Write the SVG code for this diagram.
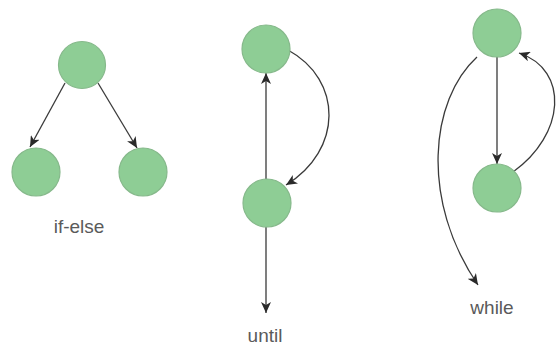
<svg xmlns="http://www.w3.org/2000/svg" width="557" height="345" viewBox="0 0 557 345">
<style>
.node{fill:#8ecd95;stroke:#86b98b;stroke-width:1.2}
.edge{fill:none;stroke:#3a3a3a;stroke-width:1.3}
.lbl{font-family:"Liberation Sans",Arial,sans-serif;font-size:19px;fill:#5a5a5a;text-anchor:middle}
</style>
<defs>
<marker id="ah" markerUnits="userSpaceOnUse" markerWidth="12" markerHeight="10" refX="11" refY="5" orient="auto">
<path d="M0,0 L11,5 L0,10 L3,5 Z" fill="#2a2a2a"/>
</marker>
</defs>
<rect width="557" height="345" fill="#fff"/>
<g id="connectors">
<line class="edge" x1="65" y1="83" x2="30" y2="147" marker-end="url(#ah)"/>
<line class="edge" x1="98" y1="83" x2="137" y2="148" marker-end="url(#ah)"/>
<line class="edge" x1="266" y1="179" x2="266" y2="73" marker-end="url(#ah)"/>
<line class="edge" x1="266" y1="227" x2="266" y2="313" marker-end="url(#ah)"/>
<path class="edge" d="M288 50 C343 80,343 150,286 185" marker-end="url(#ah)"/>
<line class="edge" x1="497" y1="57" x2="497" y2="164" marker-end="url(#ah)"/>
<path class="edge" d="M513 172 C565 135,570 70,519 53" marker-end="url(#ah)"/>
<path class="edge" d="M477 57 C430 100,420 200,478 285" marker-end="url(#ah)"/>
</g>
<g id="ifelse-top"><circle class="node" cx="82" cy="65" r="23.5"/></g>
<g id="ifelse-left"><circle class="node" cx="36" cy="172" r="24"/></g>
<g id="ifelse-right"><circle class="node" cx="143" cy="172" r="24"/></g>
<g id="until-top"><circle class="node" cx="266" cy="49" r="24"/></g>
<g id="until-bottom"><circle class="node" cx="267" cy="203" r="24"/></g>
<g id="while-top"><circle class="node" cx="497" cy="33" r="24"/></g>
<g id="while-bottom"><circle class="node" cx="497" cy="188" r="24"/></g>
<g id="labels">
<text class="lbl" x="79" y="233">if-else</text>
<text class="lbl" x="265" y="342">until</text>
<text class="lbl" x="492" y="314">while</text>
</g>
</svg>
